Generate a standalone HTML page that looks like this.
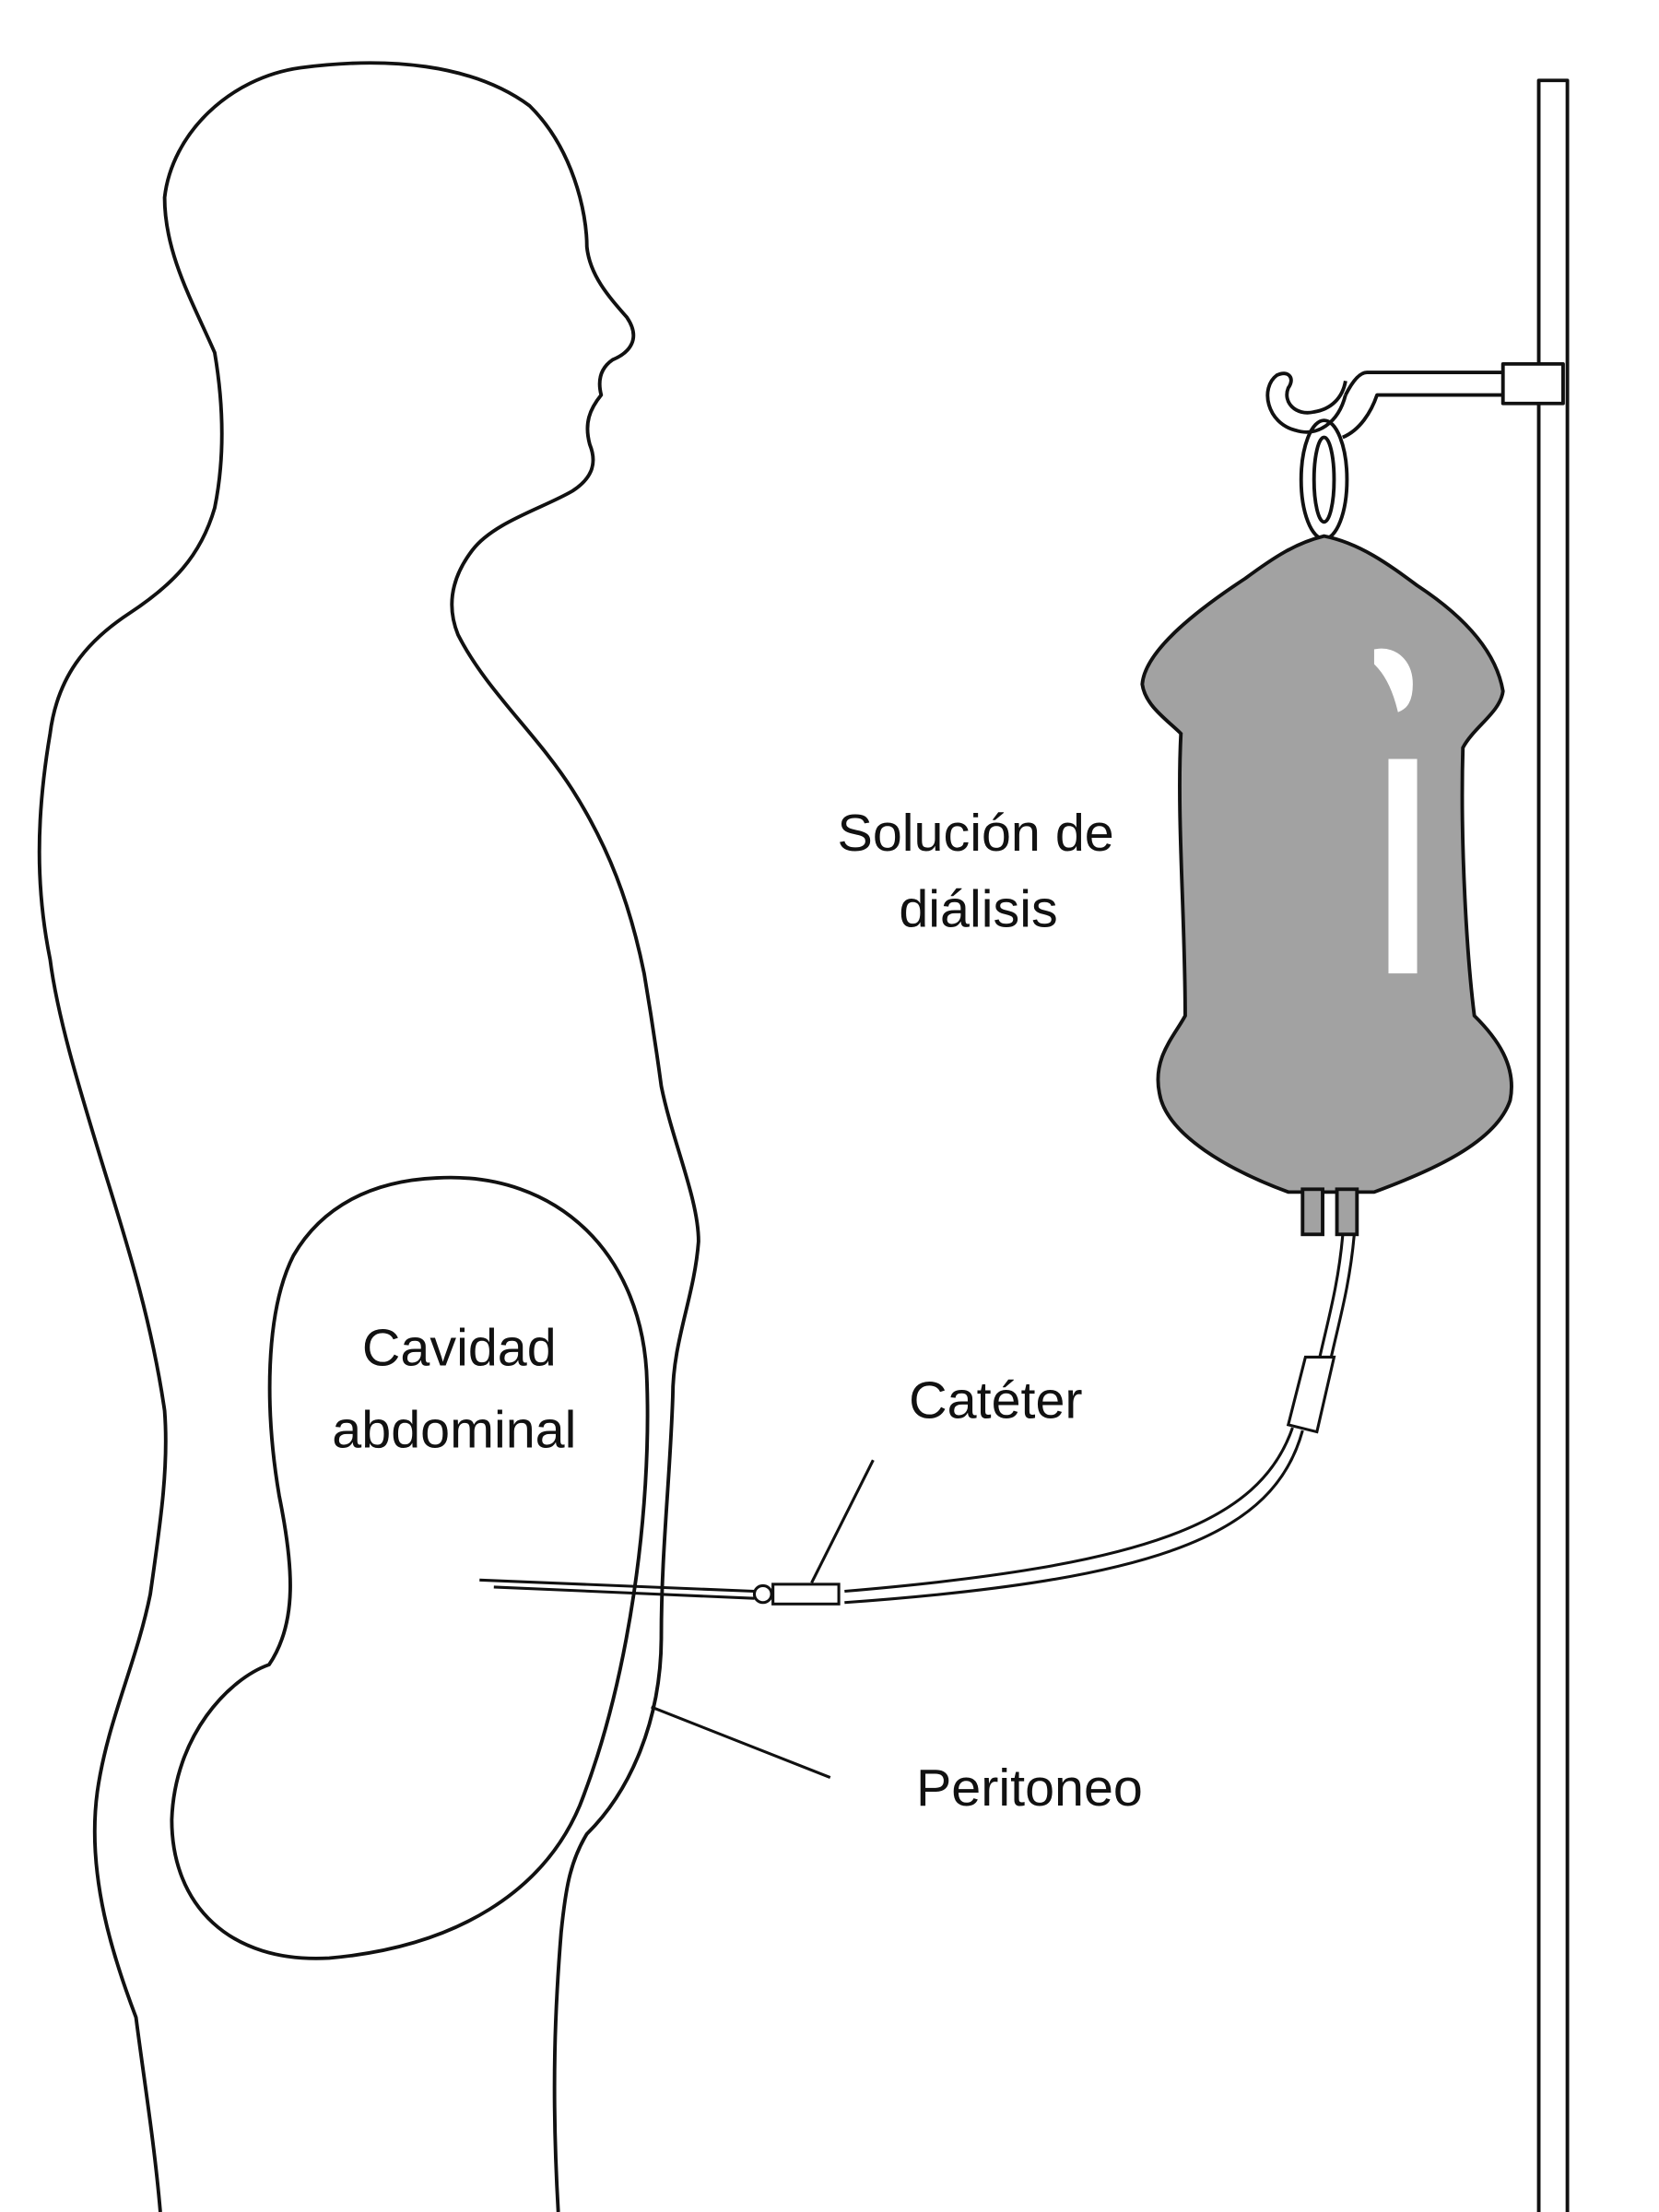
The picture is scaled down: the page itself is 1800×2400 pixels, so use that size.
<!DOCTYPE html>
<html><head><meta charset="utf-8"><style>
html,body{margin:0;padding:0;background:#fff;width:1800px;height:2400px;overflow:hidden}
svg{display:block}
text{font-family:"Liberation Sans",sans-serif;font-size:37px;fill:#111}
</style></head><body>
<svg width="1800" height="2400" viewBox="0 0 1159 1568" preserveAspectRatio="none" xmlns="http://www.w3.org/2000/svg">
<g fill="none" stroke="#111" stroke-width="2.5" stroke-linejoin="round">
<!-- body -->
<path d="M112,1568 C108,1520 100,1470 95,1430 C80,1390 60,1330 68,1270 C75,1220 95,1180 105,1130 C112,1080 118,1040 115,1000 C105,930 85,870 70,820 C55,770 40,720 35,680 C25,630 25,580 35,520 C40,480 60,455 90,435 C120,415 140,395 150,360 C158,320 155,280 150,250 C135,215 115,180 115,140 C120,95 160,55 210,48 C270,40 330,45 370,75 C400,105 410,150 410,175 C412,195 425,210 438,225 C448,240 440,250 428,255 C418,262 418,272 420,280 C412,290 408,300 412,315 C418,330 412,340 400,348 C380,360 345,370 330,390 C315,410 312,430 320,450 C340,490 375,520 400,560 C425,600 440,640 450,690 C455,720 458,740 462,770 C470,810 488,850 488,880 C485,920 470,950 470,990 C468,1050 462,1100 462,1160 C462,1220 440,1270 410,1300 C398,1320 395,1340 392,1370 C388,1420 385,1480 390,1568"/>
<!-- abdominal cavity -->
<path d="M305,835 C390,830 450,890 452,980 C455,1070 440,1190 405,1280 C380,1340 320,1380 230,1388 C160,1392 120,1350 120,1290 C122,1230 160,1190 188,1180 C208,1150 205,1110 195,1060 C185,1000 185,930 205,890 C225,855 260,837 305,835 Z"/>
<!-- peritoneo leader -->
<line x1="455" y1="1210" x2="580" y2="1260" stroke-width="2"/>
<!-- cateter leader -->
<line x1="567" y1="1122" x2="610" y2="1035" stroke-width="2"/>
<!-- pole -->
<rect x="1075" y="57" width="20" height="1520" fill="#fff"/>
<!-- bracket -->
<path d="M1052,264 L955,264 C950,264 945,270 940,280 M1052,280 L962,280 C958,292 950,305 938,310" />
<rect x="1050" y="258" width="42" height="28" fill="#fff"/>
<path d="M940,280 C935,300 920,310 905,305 C885,300 880,275 892,266 C900,262 905,268 900,275 C896,285 905,295 918,292 C930,290 938,282 940,270"/>
<ellipse cx="925" cy="340" rx="16" ry="42"/>
<ellipse cx="925" cy="340" rx="7" ry="30"/>
</g>
<!-- bag -->
<path d="M925,380 C950,385 970,400 990,415 C1020,435 1045,460 1050,490 C1048,505 1030,515 1022,530 C1020,600 1025,680 1030,720 C1045,735 1060,755 1055,780 C1045,810 1000,830 960,845 L900,845 C860,830 815,805 810,775 C805,750 820,735 828,720 C828,650 822,580 825,520 C815,510 800,500 798,485 C800,460 840,430 870,410 C890,395 905,385 925,380 Z" fill="#a2a2a2" stroke="#111" stroke-width="2.5"/>
<path d="M962,462 C975,460 985,470 985,485 C985,495 982,500 978,502 C975,490 970,478 962,470 Z" fill="#fff" stroke="#fff" stroke-width="4"/>
<rect x="970" y="538" width="20" height="152" fill="#fff"/>
<rect x="910" y="843" width="14" height="32" fill="#a2a2a2" stroke="#111" stroke-width="2.5"/>
<rect x="934" y="843" width="14" height="32" fill="#a2a2a2" stroke="#111" stroke-width="2.5"/>
<!-- tubing -->
<g fill="none" stroke="#111" stroke-width="2">
<path d="M938,876 C935,910 928,935 922,962"/>
<path d="M946,876 C943,910 936,935 930,962"/>
<path d="M912,962 L932,962 L920,1015 L900,1010 Z" fill="#fff"/>
<path d="M903,1012 C880,1080 800,1110 590,1128"/>
<path d="M910,1014 C890,1088 810,1120 590,1136"/>
<rect x="540" y="1123" width="46" height="14" fill="#fff"/>
<circle cx="533" cy="1130" r="6" fill="#fff"/>
<path d="M527,1128 L335,1120 M527,1133 L345,1125"/>
</g>
<text x="585" y="603">Solución de</text>
<text x="628" y="657">diálisis</text>
<text x="253" y="968">Cavidad</text>
<text x="232" y="1026">abdominal</text>
<text x="635" y="1005">Catéter</text>
<text x="640" y="1280">Peritoneo</text>
</svg>
</body></html>
